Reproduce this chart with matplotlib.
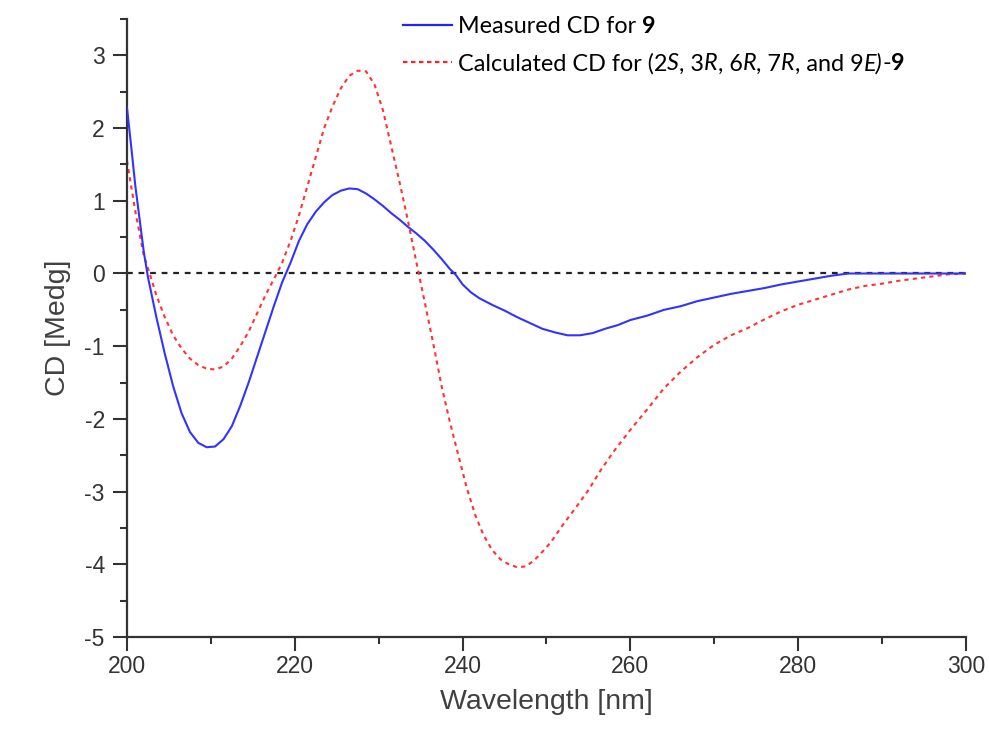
import matplotlib
matplotlib.use("Agg")
import matplotlib.pyplot as plt
from matplotlib import font_manager
from matplotlib.font_manager import FontProperties
from matplotlib.ticker import MultipleLocator

# Measured CD spectrum of compound 9
wl_measured = [200.0, 200.5, 201.0, 201.5, 202.0, 202.5, 203.5, 204.5, 205.5, 206.5,
               207.5, 208.5, 209.5, 210.5, 211.5, 212.5, 213.5, 214.5, 215.5, 216.5,
               217.5, 218.5, 219.5, 220.5, 221.5, 222.5, 223.5, 224.5, 225.5, 226.5,
               227.5, 228.5, 229.5, 230.5, 231.5, 232.5, 233.5, 234.5, 235.5, 236.5,
               237.5, 238.5, 239.2, 240.0, 241.0, 242.0, 243.5, 245.0, 246.5, 248.0,
               249.5, 251.0, 252.5, 254.0, 255.5, 257.0, 258.5, 260.0, 262.0, 264.0,
               266.0, 268.0, 270.0, 272.0, 274.0, 276.0, 278.0, 280.0, 282.0, 284.0,
               286.0, 290.0, 295.0, 300.0]
cd_measured = [2.28, 1.75, 1.20, 0.75, 0.30, -0.05, -0.60, -1.10, -1.55, -1.92,
               -2.18, -2.33, -2.39, -2.38, -2.28, -2.10, -1.82, -1.50, -1.15, -0.80,
               -0.45, -0.12, 0.15, 0.45, 0.68, 0.85, 0.98, 1.08, 1.14, 1.17,
               1.16, 1.10, 1.02, 0.93, 0.83, 0.74, 0.64, 0.55, 0.45, 0.33,
               0.20, 0.06, -0.02, -0.15, -0.26, -0.34, -0.43, -0.51, -0.60, -0.68,
               -0.76, -0.81, -0.85, -0.85, -0.82, -0.76, -0.71, -0.64, -0.58, -0.50,
               -0.45, -0.38, -0.33, -0.28, -0.24, -0.20, -0.15, -0.11, -0.07, -0.03,
               0.00, 0.00, 0.00, 0.00]

# Calculated ECD spectrum for (2S, 3R, 6R, 7R, 9E)-9
wl_calc = [200.0, 200.5, 201.0, 201.5, 202.0, 202.7, 203.5, 204.5, 205.5, 206.5,
           207.5, 208.5, 209.5, 210.5, 211.5, 212.5, 213.5, 214.5, 215.5, 216.5,
           217.5, 218.5, 219.5, 220.5, 221.5, 222.5, 223.5, 224.5, 225.5, 226.5,
           227.5, 228.5, 229.5, 230.5, 231.5, 232.5, 233.5, 234.5, 235.5, 236.5,
           237.5, 238.5, 239.5, 240.5, 241.5, 242.5, 243.5, 244.5, 245.5, 246.5,
           247.5, 248.5, 249.5, 250.5, 252.0, 253.5, 255.0, 256.5, 258.0, 260.0,
           262.0, 264.0, 266.0, 268.0, 270.0, 272.0, 274.0, 276.0, 278.0, 280.0,
           282.0, 284.0, 286.0, 288.0, 290.0, 292.0, 294.0, 296.0, 298.0, 300.0]
cd_calc = [1.55, 1.20, 0.85, 0.55, 0.25, 0.00, -0.30, -0.60, -0.85, -1.03,
           -1.17, -1.26, -1.31, -1.32, -1.28, -1.17, -1.00, -0.80, -0.55, -0.30,
           -0.08, 0.15, 0.45, 0.80, 1.20, 1.60, 2.00, 2.30, 2.55, 2.72,
           2.79, 2.78, 2.60, 2.25, 1.75, 1.25, 0.72, 0.15, -0.40, -0.96,
           -1.55, -2.05, -2.50, -2.95, -3.32, -3.60, -3.80, -3.93, -4.00, -4.04,
           -4.03, -3.95, -3.83, -3.70, -3.45, -3.22, -2.98, -2.70, -2.45, -2.15,
           -1.87, -1.58, -1.35, -1.15, -0.98, -0.85, -0.75, -0.63, -0.52, -0.43,
           -0.36, -0.29, -0.22, -0.17, -0.14, -0.10, -0.07, -0.04, -0.01, 0.00]

x_range = [200, 300]
zero_line = [0, 0]

AXIS_COLOR = "#333333"
plt.rcParams["font.family"] = ["Liberation Sans", "DejaVu Sans"]
plt.rcParams["axes.unicode_minus"] = False

fig = plt.figure(figsize=(9.89, 7.33), dpi=100)
ax = fig.add_axes([0.1284, 0.131, 0.8483, 0.843])

ax.plot(x_range, zero_line, color="#222222", lw=1.6, ls=(0, (2.6, 2.6)), zorder=1)
ax.plot(wl_measured, cd_measured, color="#3333ff", lw=1.5, zorder=3)
ax.plot(wl_calc, cd_calc, color="#ff3333", lw=1.5, ls=(0, (2.0, 2.0)), zorder=2)

ax.set_xlim(200, 300)
ax.set_ylim(-5, 3.5)
ax.xaxis.set_major_locator(MultipleLocator(20))
ax.xaxis.set_minor_locator(MultipleLocator(10))
ax.yaxis.set_minor_locator(MultipleLocator(0.5))
ax.set_yticks(range(-5, 4))

for side in ("top", "right"):
    ax.spines[side].set_visible(False)
for side in ("left", "bottom"):
    ax.spines[side].set_color(AXIS_COLOR)
    ax.spines[side].set_linewidth(1.6)

ax.tick_params(which="both", direction="out", color=AXIS_COLOR, width=1.5,
               labelcolor=AXIS_COLOR, labelsize=16.5)
ax.tick_params(which="major", length=10)
ax.tick_params(which="minor", length=5)
ax.tick_params(axis="x", which="major", pad=3)
ax.tick_params(axis="y", which="major", pad=6)

ax.set_xlabel("Wavelength [nm]", fontsize=20.5, color="#404040", labelpad=8)
ax.set_ylabel("CD [Medg]", fontsize=20.5, color="#404040", labelpad=10)

# Legend drawn as sample lines plus rich text in figure coordinates
leg_size = 16.8


def leg_font(weight, style):
    """Resolve the exact Lato face file so weight and slant are honoured."""
    path = font_manager.findfont(FontProperties(family="Lato", weight=weight,
                                                style=style))
    return FontProperties(fname=path, size=leg_size)


fig.add_artist(plt.Line2D([0.4075, 0.457], [0.966, 0.966], color="#2222ff",
                          lw=1.6, transform=fig.transFigure))
fig.add_artist(plt.Line2D([0.4075, 0.457], [0.9154, 0.9154], color="#ff2222",
                          lw=1.6, ls=(0, (2.0, 1.6)), transform=fig.transFigure))


def rich_line(pieces, x0, y_base):
    """Write text pieces with mixed weight/style on one shared baseline."""
    txt, weight, style = pieces[0]
    prev = fig.text(x0, y_base, txt, fontproperties=leg_font(weight, style),
                    va="baseline", ha="left", color="black")
    for txt, weight, style in pieces[1:]:
        prev = ax.annotate(txt, xy=(1, y_base), xycoords=(prev, "figure fraction"),
                           fontproperties=leg_font(weight, style),
                           va="baseline", ha="left", color="black",
                           annotation_clip=False)
    return prev


rich_line([("Measured CD for ", "normal", "normal"),
           ("9", "bold", "normal")], 0.463, 0.955)
rich_line([("Calculated CD for (2", "normal", "normal"),
           ("S", "normal", "italic"),
           (", 3", "normal", "normal"),
           ("R", "normal", "italic"),
           (", 6", "normal", "normal"),
           ("R", "normal", "italic"),
           (", 7", "normal", "normal"),
           ("R", "normal", "italic"),
           (", and 9", "normal", "normal"),
           ("E)", "normal", "italic"),
           ("-", "normal", "normal"),
           ("9", "bold", "normal")], 0.463, 0.904)

fig.savefig("out.png", dpi=100)
